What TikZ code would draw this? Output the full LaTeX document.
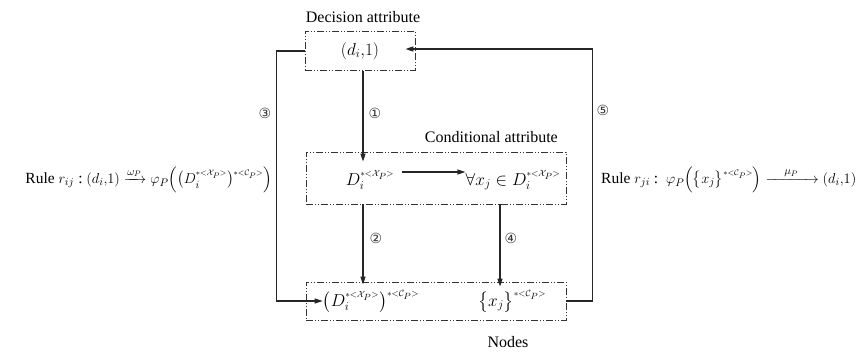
\documentclass[tikz,border=0pt]{standalone}
\usepackage{amsmath}
\usepackage{fontspec}
\setmainfont{Liberation Serif}
\newfontfamily\dejavu{DejaVu Sans}
\usetikzlibrary{arrows.meta,calc}
\newcommand{\supX}{^{\scriptscriptstyle *<\mathcal{X}_P>}}
\newcommand{\supC}{^{\scriptscriptstyle *<\mathcal{C}_P>}}
\tikzset{
  dbox/.style={draw=black!80, line width=0.8pt, dash pattern=on 7pt off 2pt on 1pt off 2pt on 1pt off 2pt, inner sep=0pt},
  conn/.style={draw=black!85, line width=1.2pt},
  arr/.style={conn, -{Triangle[length=8pt,width=5pt]}},
  circ/.style={font=\dejavu\fontsize{14}{15}\selectfont, inner sep=0pt, text=black!80},
  lbl/.style={font=\fontsize{16}{18}\selectfont, inner sep=0pt},
  txt/.style={font=\fontsize{18}{20}\selectfont, inner sep=0pt},
  rtxt/.style={font=\fontsize{15.5}{18}\selectfont, inner sep=0pt}
}
\begin{document}
\begin{tikzpicture}[x=1pt,y=-1pt]
\useasboundingbox (0,0) rectangle (859,353);
% boxes
\node[dbox, minimum width=110pt, minimum height=39pt] (dec) at (360,51) {};
\node[dbox, minimum width=260pt, minimum height=52pt] (cond) at (436,178) {};
\node[dbox, minimum width=260pt, minimum height=38pt] (nbox) at (436,301) {};
% box labels
\node[lbl] (declbl) at (363,17) {Decision attribute};
\node[lbl, anchor=east] (condlbl) at (558,137) {Conditional attribute};
\node[lbl] (nodeslbl) at (508,342) {Nodes};
% texts
\node[txt] (dtext) at (360,51) {$(d_i{,}1)$};
\node[txt] (cD) at (370,180) {$D_i\supX$};
\node[txt] (cA) at (513,180) {$\forall x_j\in D_i\supX$};
\node[txt] (bD) at (371,301) {$\bigl(D_i\supX\bigr)\supC$};
\node[txt] (bX) at (512,301) {$\bigl\{x_j\bigr\}\supC$};
\node[rtxt, anchor=east] (ruleL) at (272,180) {Rule $r_{ij}$ :\ $(d_i{,}1)\xrightarrow{\omega_P}\varphi_P\Bigl(\bigl(D_i\supX\bigr)\supC\Bigr)$};
\node[rtxt, anchor=west] (ruleR) at (601,180) {Rule $r_{ji}$ :\ \ $\varphi_P\Bigl(\bigl\{x_j\bigr\}\supC\Bigr)\xrightarrow{\quad\mu_P\quad}(d_i{,}1)$};
% connectors
\coordinate (c1) at (363,0);
\coordinate (c4) at (500,0);
\coordinate (ia) at (402,172);
\draw[arr] (dec.south -| c1) -- (cond.north -| c1) -- ++(0,10);
\draw[arr] (cond.south -| c1) -- (nbox.north -| c1) -- ++(0,3);
\draw[arr] (cond.south -| c4) -- (nbox.north -| c4) -- ++(0,5);
\draw[arr] (ia) -- (cA.west |- ia);
\draw[arr] (dec.west) -- ++(-28,0) |- (bD.west);
\draw[arr] (nbox.east) -- ++(26,0) |- ($(dec.east)+(-10,-2)$);
% step numbers
\node[circ] (n1) at (375,113) {①};
\node[circ] (n2) at (376,238) {②};
\node[circ] (n3) at (265,113) {③};
\node[circ] (n4) at (511,238) {④};
\node[circ] (n5) at (603,110) {⑤};
\end{tikzpicture}
\end{document}
